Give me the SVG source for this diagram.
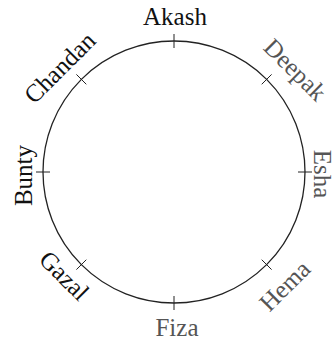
<svg xmlns="http://www.w3.org/2000/svg" width="336" height="343" viewBox="0 0 336 343">
<style>
.lbl{font-family:"Liberation Serif","Times New Roman",serif;font-size:25px;text-anchor:middle}
.dk{fill:#111}
.gr{fill:#555}
.tick{stroke:#222;stroke-width:1}
.ring{fill:none;stroke:#222;stroke-width:1.3}
</style>
<rect width="336" height="343" fill="#fff"/>
<g id="connectors">
<circle class="ring" cx="174" cy="172" r="131"/>
<line class="tick" x1="174" y1="34" x2="174" y2="48"/>
<line class="tick" x1="174" y1="296" x2="174" y2="310"/>
<line class="tick" x1="36" y1="172" x2="50" y2="172"/>
<line class="tick" x1="298" y1="172" x2="312" y2="172"/>
<line class="tick" x1="261.7" y1="84.3" x2="271.6" y2="74.4"/>
<line class="tick" x1="86.3" y1="84.3" x2="76.4" y2="74.4"/>
<line class="tick" x1="86.3" y1="259.7" x2="76.4" y2="269.6"/>
<line class="tick" x1="261.7" y1="259.7" x2="271.6" y2="269.6"/>
</g>
<g id="akash"><text class="lbl dk" x="175" y="25">Akash</text></g>
<g id="deepak" transform="translate(295,70) rotate(45)"><text class="lbl gr" x="0" y="8">Deepak</text></g>
<g id="esha" transform="translate(322,174) rotate(90)"><text class="lbl gr" x="0" y="8">Esha</text></g>
<g id="hema" transform="translate(285,286) rotate(-45)"><text class="lbl gr" x="0" y="8">Hema</text></g>
<g id="fiza"><text class="lbl gr" x="177" y="336">Fiza</text></g>
<g id="gazal" transform="translate(64,276) rotate(45)"><text class="lbl dk" x="0" y="8">Gazal</text></g>
<g id="bunty" transform="translate(24,175.5) rotate(-90)"><text class="lbl dk" x="0" y="8">Bunty</text></g>
<g id="chandan" transform="translate(60,68) rotate(-45)"><text class="lbl dk" x="0" y="8">Chandan</text></g>
</svg>
